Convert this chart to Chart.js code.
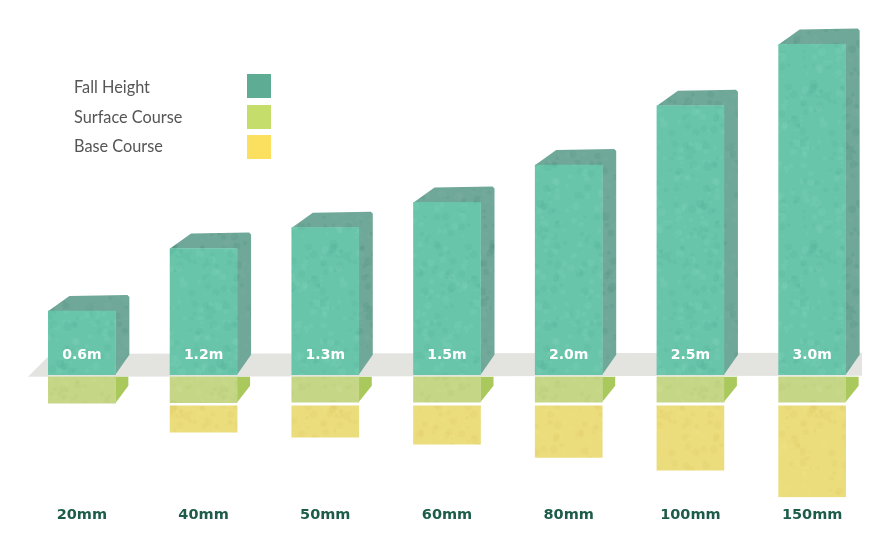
<!DOCTYPE html>
<html><head><meta charset="utf-8">
<style>html,body{margin:0;padding:0;background:#fff}canvas{display:block}</style>
<script src="https://cdn.jsdelivr.net/npm/chart.js@4"></script>
</head><body>
<canvas id="c" width="890" height="552"></canvas>
<script>
const categories = ['20mm','40mm','50mm','60mm','80mm','100mm','150mm'];
const fallLabels = ['0.6m','1.2m','1.3m','1.5m','2.0m','2.5m','3.0m'];
const fallHeight = [0.58,1.15,1.34,1.57,1.91,2.45,3.01];
const surfaceBottom = [-0.26,-0.255,-0.25,-0.25,-0.25,-0.25,-0.25];
const baseBottom = [null,-0.525,-0.57,-0.635,-0.755,-0.87,-1.115];
const surfaceTop = -0.02, baseTop = -0.285;

function texture(base, dark, light){
  const s=160, o=document.createElement('canvas'); o.width=o.height=s;
  const g=o.getContext('2d'); g.fillStyle=base; g.fillRect(0,0,s,s);
  let seed=12345; const next=()=>(seed=(seed*1103515245+12345)&0x7fffffff)/0x7fffffff;
  for(let i=0;i<420;i++){
    g.fillStyle=next()<0.55?light:dark;
    g.beginPath(); g.arc(next()*s,next()*s,0.6+next()*3.5,0,7); g.fill();
  }
  return g.createPattern(o,'repeat');
}
const ctx0=document.getElementById('c').getContext('2d');
const pal={
  fall:texture('#69c5aa','rgba(60,160,130,.09)','rgba(150,225,200,.12)'),
  fallSide:texture('#6fa899','rgba(60,120,105,.12)','rgba(150,190,175,.10)'),
  surf:texture('#c5d687','rgba(170,190,90,.10)','rgba(220,230,160,.12)'),
  base:texture('#ebdc7c','rgba(215,190,80,.10)','rgba(245,235,150,.12)')
};

const scenery={
  id:'scenery',
  beforeDatasetsDraw(ch){
    const c=ch.ctx, y0=ch.scales.y.getPixelForValue(0);
    c.save();
    c.fillStyle='#e3e3e0';
    c.beginPath();c.moveTo(28,y0+2);c.lineTo(51,y0-21);c.lineTo(862,y0-22);c.lineTo(862,y0+1);c.closePath();c.fill();
    ch.getDatasetMeta(0).data.forEach(b=>{
      const l=b.x-b.width/2,r=b.x+b.width/2,t=b.y,bt=b.base;
      c.fillStyle=pal.fallSide;
      c.beginPath();c.moveTo(l,t);c.lineTo(l+21,t-15);c.lineTo(r+12,t-16);c.lineTo(r+14,t-14);
      c.lineTo(r+14,bt-20);c.lineTo(r,bt);c.lineTo(r,t);c.closePath();c.fill();
    });
    ch.getDatasetMeta(1).data.forEach(b=>{
      const r=b.x+b.width/2, top=Math.min(b.y,b.base), bot=Math.max(b.y,b.base);
      c.fillStyle='#a9c95c';
      c.beginPath();c.moveTo(r,top);c.lineTo(r+13,top);c.lineTo(r+13,top+9);c.lineTo(r,bot);c.closePath();c.fill();
    });
    c.restore();
  },
  afterDatasetsDraw(ch){
    const c=ch.ctx, ys=ch.scales.y;
    c.save();
    c.fillStyle='#fff';c.font='bold 14px "DejaVu Sans"';c.textAlign='center';c.textBaseline='middle';
    ch.getDatasetMeta(0).data.forEach((b,i)=>c.fillText(fallLabels[i],b.x,ys.getPixelForValue(0.18)));
    const sw=['#5fac95','#c5dd6a','#fbdf5e'], ty=[88,118,147], by=[74,105,135];
    c.textAlign='left';c.font='16.3px Lato';
    ch.data.datasets.forEach((d,i)=>{
      c.fillStyle='#555';c.fillText(d.label,74,ty[i]);
      c.fillStyle=sw[i];c.fillRect(247,by[i],24,24);
    });
    c.restore();
  }
};

new Chart(ctx0,{
  type:'bar',
  data:{labels:categories,datasets:[
    {label:'Fall Height',data:fallHeight.map(v=>[0,v]),backgroundColor:pal.fall},
    {label:'Surface Course',data:surfaceBottom.map(v=>[surfaceTop,v]),backgroundColor:pal.surf},
    {label:'Base Course',data:baseBottom.map(v=>v===null?null:[baseTop,v]),backgroundColor:pal.base}
  ]},
  options:{
    responsive:false,animation:false,
    layout:{padding:{left:21,right:17,top:0,bottom:27}},
    datasets:{bar:{grouped:false,barThickness:67,borderWidth:0,borderSkipped:false}},
    plugins:{legend:{display:false},tooltip:{enabled:false},title:{display:false}},
    scales:{
      x:{grid:{display:false},border:{display:false},
         ticks:{color:'#1e5c4a',font:{family:'"DejaVu Sans"',weight:'bold',size:14.5},padding:1,maxRotation:0}},
      y:{display:false,min:-1.121,max:3.415}
    }
  },
  plugins:[scenery]
});
</script>
</body></html>
